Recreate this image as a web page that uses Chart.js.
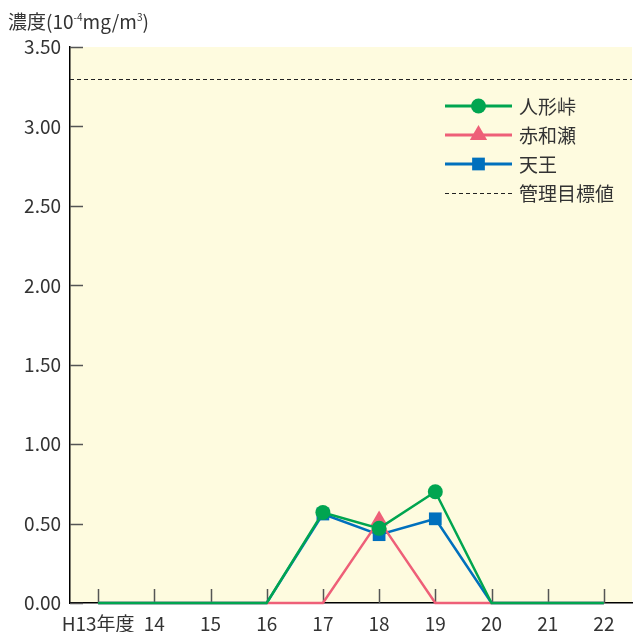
<!DOCTYPE html>
<html>
<head>
<meta charset="utf-8">
<script src="https://cdn.jsdelivr.net/npm/chart.js@4"></script>
<style>
  html, body { margin: 0; padding: 0; background: #fff; }
  #wrap { position: relative; width: 634px; height: 632px; }
  #unit {
    position: absolute; left: 8px; top: 10px;
    font-family: "Noto Sans CJK JP", sans-serif; font-size: 19px; color: #333;
    line-height: 22px; white-space: nowrap;
  }
  #unit sup { font-size: 10px; vertical-align: 8px; line-height: 0; }
</style>
</head>
<body>
<div id="wrap">
  <canvas id="chart" width="634" height="632"></canvas>
  <div id="unit">濃度(10<sup>-4</sup>mg/m<sup>3</sup>)</div>
</div>
<script>
const years = ['H13年度', '14', '15', '16', '17', '18', '19', '20', '21', '22'];
const ningyotoge = [0, 0, 0, 0, 0.57, 0.47, 0.70, 0, 0, 0];
const akawase = [0, 0, 0, 0, 0, 0.52, 0, 0, 0, 0];
const tenno = [0, 0, 0, 0, 0.56, 0.43, 0.53, 0, 0, 0];
const targetValue = 3.3; // 管理目標値

const FONT = '"Noto Sans CJK JP", sans-serif';
const TEXT = '#333';

// only show markers on non-zero values
function markerSize(r) {
  return ctx => (ctx.raw === 0 ? 0 : r);
}

const series = [
  { label: '人形峠', data: ningyotoge, color: '#00a550', style: 'circle', radius: 7.5 },
  { label: '赤和瀬', data: akawase, color: '#ee5f78', style: 'triangle', radius: 10 },
  { label: '天王', data: tenno, color: '#0070bd', style: 'rect', radius: 9 }
];

// background of the plot area
const plotBackground = {
  id: 'plotBackground',
  beforeDraw(chart) {
    const { ctx, chartArea: a } = chart;
    ctx.save();
    ctx.fillStyle = '#fefbdf';
    ctx.fillRect(a.left, a.top, a.right - a.left, a.bottom - a.top);
    ctx.restore();
  }
};

// ticks pointing into the plot + target line
const innerTicks = {
  id: 'innerTicks',
  beforeDatasetsDraw(chart) {
    const { ctx, chartArea: a, scales } = chart;
    ctx.save();
    ctx.strokeStyle = '#555';
    ctx.lineWidth = 1.5;
    ctx.beginPath();
    scales.y.ticks.forEach((t, i) => {
      const y = Math.round(scales.y.getPixelForTick(i)) + 0.5;
      ctx.moveTo(a.left, y);
      ctx.lineTo(a.left + 13, y);
    });
    scales.x.ticks.forEach((t, i) => {
      const x = Math.round(scales.x.getPixelForTick(i)) + 0.5;
      ctx.moveTo(x, a.bottom);
      ctx.lineTo(x, a.bottom - 14);
    });
    ctx.stroke();

    const ty = Math.round(scales.y.getPixelForValue(targetValue)) + 0.5;
    ctx.strokeStyle = '#222';
    ctx.lineWidth = 1;
    ctx.setLineDash([4, 3]);
    ctx.beginPath();
    ctx.moveTo(a.left, ty);
    ctx.lineTo(a.right, ty);
    ctx.stroke();
    ctx.restore();
  }
};

// legend inside the plot, top right
const innerLegend = {
  id: 'innerLegend',
  afterDraw(chart) {
    const { ctx, chartArea: a } = chart;
    const x0 = a.right - 187, x1 = a.right - 120, tx = a.right - 113;
    let y = a.top + 59;
    ctx.save();
    ctx.font = '19px ' + FONT;
    ctx.textBaseline = 'middle';
    series.forEach(s => {
      ctx.strokeStyle = s.color;
      ctx.lineWidth = 3;
      ctx.beginPath();
      ctx.moveTo(x0, y);
      ctx.lineTo(x1, y);
      ctx.stroke();
      ctx.fillStyle = s.color;
      Chart.helpers.drawPoint(ctx, { pointStyle: s.style, radius: s.radius, rotation: 0, borderWidth: 0 }, (x0 + x1) / 2, y);
      ctx.fillStyle = TEXT;
      ctx.fillText(s.label, tx, y + 1);
      y += 29;
    });
    ctx.strokeStyle = '#222';
    ctx.lineWidth = 1;
    ctx.setLineDash([4, 3]);
    ctx.beginPath();
    ctx.moveTo(x0, Math.round(y) + 0.5);
    ctx.lineTo(x1, Math.round(y) + 0.5);
    ctx.stroke();
    ctx.fillStyle = TEXT;
    ctx.fillText('管理目標値', tx, y + 1);
    ctx.restore();
  }
};

new Chart(document.getElementById('chart'), {
  type: 'line',
  data: {
    labels: years,
    datasets: series.map(s => ({
      label: s.label,
      data: s.data,
      borderColor: s.color,
      backgroundColor: s.color,
      borderWidth: 2.5,
      pointStyle: s.style,
      pointRadius: markerSize(s.radius),
      pointHoverRadius: markerSize(s.radius),
      pointBorderWidth: 0,
      tension: 0,
      clip: false
    }))
  },
  options: {
    responsive: false,
    devicePixelRatio: 1,
    animation: false,
    layout: { padding: { top: 47, right: 2, left: 0, bottom: 0 } },
    plugins: {
      legend: { display: false },
      tooltip: { enabled: false }
    },
    scales: {
      x: {
        offset: true,
        grid: { display: false, drawTicks: false },
        border: { color: '#000', width: 1.5 },
        ticks: { color: TEXT, font: { family: FONT, size: 19 }, padding: 9, maxRotation: 0, autoSkip: false },
        afterFit(scale) { scale.height = 29; }
      },
      y: {
        min: 0,
        max: 3.5,
        grid: { display: false, drawTicks: false },
        border: { color: '#000', width: 1.5 },
        ticks: {
          stepSize: 0.5,
          color: TEXT,
          font: { family: FONT, size: 19 },
          padding: 9,
          callback: v => v.toFixed(2)
        },
        afterFit(scale) { scale.width = 70; }
      }
    }
  },
  plugins: [plotBackground, innerTicks, innerLegend]
});
</script>
</body>
</html>
